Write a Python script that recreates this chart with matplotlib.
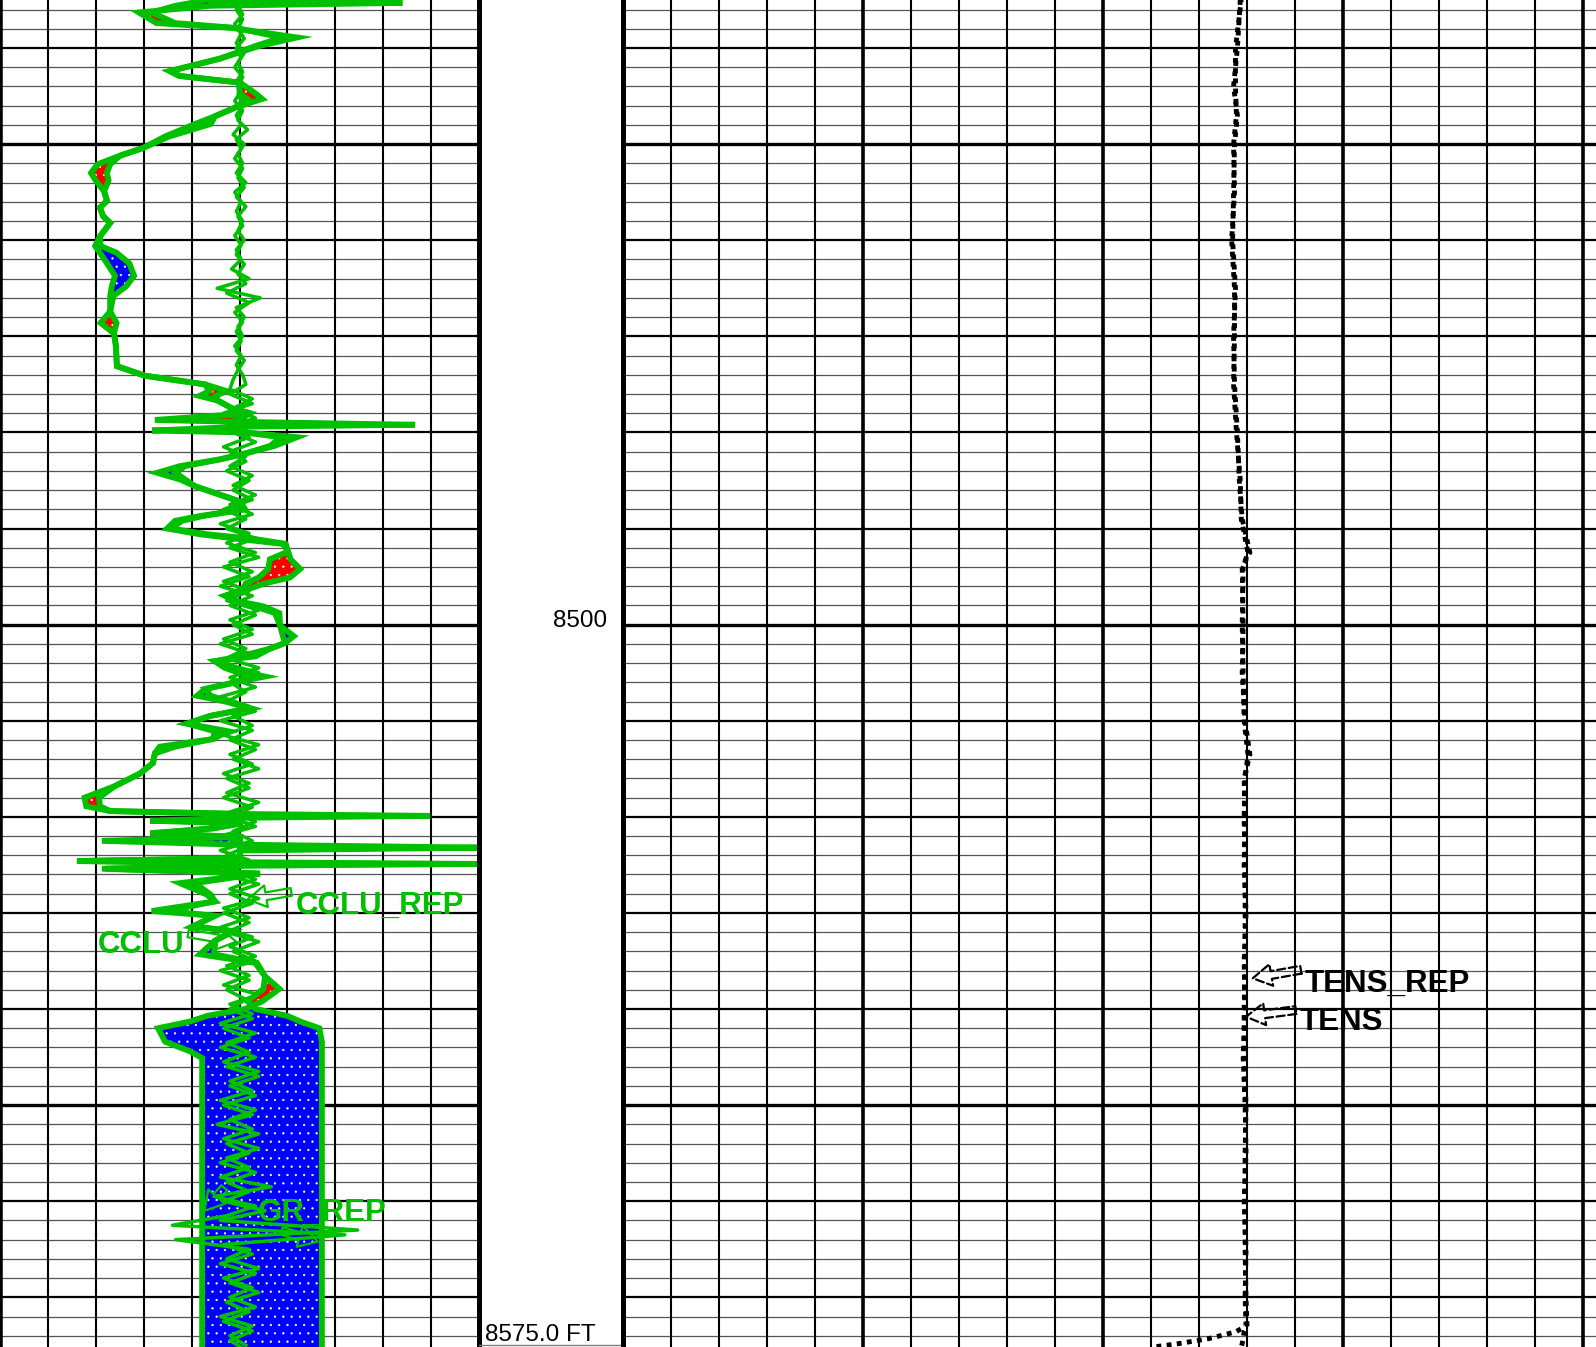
import numpy as np
import matplotlib
matplotlib.use('Agg')
import matplotlib.pyplot as plt

plt.rcParams['font.family'] = ['Liberation Sans', 'DejaVu Sans']
plt.rcParams['hatch.color'] = 'white'
plt.rcParams['hatch.linewidth'] = 0.4

GREEN = '#00c000'
TOP, BOTTOM = 8435.0, 8575.17

# ---- Gamma ray, main pass and repeat pass (API) ----
gr_depth = [
    8435.0, 8435.3, 8435.6, 8436.3, 8437.4, 8437.9, 8438.9, 8439.8, 8441.1, 8442.4,
    8442.9, 8443.6, 8444.7, 8445.3, 8446.2, 8447.1, 8447.9, 8449.2, 8450.4, 8451.2,
    8452.1, 8453.0, 8453.8, 8454.9, 8455.9, 8456.6, 8457.5, 8458.2, 8459.6, 8460.6,
    8461.3, 8462.4, 8463.7, 8464.8, 8465.8, 8467.4, 8468.6, 8469.7, 8471.0, 8473.1,
    8474.1, 8475.0, 8475.7, 8476.2, 8476.7, 8477.5, 8478.0, 8478.7, 8478.9, 8479.2,
    8479.4, 8479.8, 8480.0, 8480.5, 8481.4, 8482.2, 8482.8, 8483.5, 8484.2, 8484.9,
    8485.6, 8486.3, 8487.2, 8488.0, 8488.7, 8489.2, 8490.0, 8490.6, 8491.1, 8491.6,
    8492.4, 8493.2, 8494.2, 8495.1, 8495.7, 8496.3, 8497.0, 8497.5, 8498.1, 8498.8,
    8500.1, 8501.2, 8501.9, 8502.5, 8503.3, 8503.8, 8504.5, 8505.4, 8505.9, 8506.7,
    8507.4, 8508.0, 8508.7, 8509.5, 8510.3, 8511.1, 8511.9, 8512.7, 8513.4, 8514.4,
    8515.5, 8516.8, 8518.0, 8518.9, 8519.4, 8519.7, 8519.9, 8520.1, 8520.4, 8520.7,
    8521.2, 8521.7, 8522.1, 8522.5, 8522.9, 8523.2, 8523.5, 8524.3, 8524.6, 8524.9,
    8525.1, 8525.4, 8525.9, 8526.9, 8528.1, 8528.8, 8529.8, 8530.3, 8531.4, 8531.9,
    8532.9, 8534.3, 8535.2, 8536.6, 8537.9, 8539.2, 8540.0, 8540.7, 8541.3, 8542.0,
    8543.4, 8544.4, 8545.1, 8575.2]
gr = [
    64.2, 60.0, 55.0, 47.5, 54.8, 73.6, 88.3, 79.9, 68.9, 53.2,
    56.4, 75.2, 79.9, 82.1, 73.6, 67.3, 61.1, 51.7, 44.8, 37.6,
    34.5, 33.5, 34.0, 32.6, 33.5, 31.3, 32.3, 34.5, 31.3, 29.8,
    31.3, 33.5, 36.0, 35.0, 34.5, 34.5, 36.5, 35.7, 36.3, 36.6,
    45.4, 64.2, 71.0, 67.5, 68.3, 72.7, 78.3, 75.0, 75.2, 76.0,
    76.7, 76.0, 76.7, 88.0, 84.6, 76.7, 68.9, 56.4, 49.2, 56.4,
    61.1, 67.3, 75.2, 76.7, 62.6, 54.8, 52.3, 62.6, 75.2, 88.6,
    90.2, 91.0, 94.0, 90.8, 83.0, 77.7, 70.5, 73.6, 79.9, 86.1,
    87.7, 88.6, 89.3, 84.6, 75.2, 67.3, 70.5, 83.0, 75.2, 64.2,
    61.7, 70.5, 78.3, 65.8, 58.6, 67.3, 66.7, 54.8, 48.5, 47.9,
    43.8, 36.0, 31.0, 31.3, 34.5, 75.2, 134.7, 75.2, 47.0, 75.2,
    66.7, 47.0, 75.2, 31.9, 75.2, 75.2, 75.2, 75.2, 24.1, 150.0,
    75.2, 31.9, 81.4, 56.4, 64.8, 67.3, 52.3, 67.3, 60.4, 73.0,
    67.3, 62.6, 79.9, 83.0, 87.5, 82.1, 76.7, 65.0, 59.5, 49.5,
    51.7, 59.5, 63.3, 63.3]
gr_rep = [
    66.0, 126.0, 66.0, 43.5, 49.0, 72.5, 93.0, 81.0, 68.9, 53.2,
    56.0, 75.2, 75.0, 77.5, 73.6, 67.3, 66.0, 53.0, 44.8, 37.6,
    30.5, 28.5, 30.0, 32.6, 33.5, 31.3, 32.3, 34.5, 31.3, 31.5,
    36.5, 40.5, 42.0, 39.5, 35.5, 34.5, 31.5, 35.7, 36.3, 36.6,
    45.4, 64.2, 65.5, 62.5, 68.3, 72.7, 78.3, 48.5, 75.2, 130.0,
    76.7, 47.6, 76.7, 93.0, 86.0, 76.7, 68.9, 58.0, 55.0, 58.0,
    61.1, 67.3, 75.2, 76.7, 63.5, 57.0, 53.5, 65.0, 80.0, 89.5,
    90.2, 84.5, 84.0, 81.0, 77.0, 76.0, 70.5, 73.6, 82.5, 87.5,
    87.7, 92.0, 89.3, 84.6, 80.0, 67.3, 70.5, 78.0, 75.2, 64.2,
    66.0, 71.5, 78.3, 65.8, 58.6, 71.5, 66.7, 50.0, 48.5, 47.9,
    43.8, 36.0, 26.5, 27.0, 34.5, 75.2, 75.0, 75.2, 75.2, 75.2,
    66.7, 48.5, 75.2, 75.2, 75.2, 150.0, 75.2, 75.2, 24.1, 75.2,
    75.2, 33.0, 81.4, 61.0, 66.0, 67.3, 47.5, 67.3, 60.4, 73.0,
    67.3, 67.0, 80.5, 83.0, 82.5, 77.5, 80.0, 89.9, 94.0, 100.0,
    100.8, 100.8, 100.8, 100.8]

# ---- Casing collar locator, main and repeat (offset from track centre) ----
cclu_depth = np.arange(8435.0, 8575.5, 1.0)
cclu = [
    0.5, -1.0, 1.0, -0.5, 1.5, -1.0, 0.5, -1.5, 1.0, -0.5,
    0.0, 1.0, -1.0, 0.5, -2.0, 1.5, -0.5, 1.0, -1.0, 2.0,
    -1.5, 0.5, -1.0, 1.0, -0.5, 1.5, -1.0, 0.5, -2.5, 3.0,
    -7.0, 6.5, -1.0, 1.5, -0.5, 1.0, -1.5, 0.5, -1.0, 1.0,
    2.0, -3.0, 4.0, -5.0, 3.0, -2.0, 5.0, -3.0, 2.0, -4.0,
    3.0, -2.0, 4.0, -5.0, 2.0, -4.0, 5.0, -3.0, 6.0, -5.0,
    3.0, -6.0, 4.0, -3.0, 5.0, -2.0, 4.0, -6.0, 3.0, -5.0,
    6.0, -3.0, 2.0, -4.0, 5.0, -6.0, 4.0, -3.0, 5.0, -2.0,
    6.0, -4.0, 3.0, -5.0, 4.0, -3.0, 5.0, -6.0, 3.0, -4.0,
    2.0, -5.0, 6.0, -3.0, 4.0, -5.0, 3.0, -4.0, 6.0, -2.0,
    5.0, -6.0, 3.0, -4.0, 2.0, -3.0, 4.0, -5.0, 3.0, -6.0,
    5.0, -4.0, 6.0, -3.0, 5.0, -5.0, 4.0, -7.0, 6.0, -4.0,
    3.0, -6.0, 5.0, -4.0, 3.0, -5.0, 8.0, -6.0, 37.0, -20.0,
    3.0, -4.0, 6.0, -5.0, 4.0, -3.0, 5.0, -6.0, 4.0, -3.0, 2.0]
cclu_rep_depth = np.arange(8435.5, 8576.0, 1.0)
cclu_rep = [
    -0.5, 1.0, -1.5, 0.5, -1.0, 1.5, -0.5, 1.0, -1.0, 0.5,
    -1.5, 1.0, -0.5, 2.5, -1.0, 0.5, -1.5, 1.0, -0.5, 1.5,
    -1.0, 2.0, -0.5, 1.0, -1.5, 0.5, -1.0, 1.5, -0.5, 2.0,
    -4.0, 3.0, -1.5, 1.0, -1.0, 0.5, -1.0, 1.5, -0.5, -2.0,
    -3.0, 4.0, -2.0, 5.0, -4.0, 3.0, -5.0, 2.0, -3.0, 4.0,
    -2.0, 5.0, -3.0, 4.0, -6.0, 3.0, -4.0, 5.0, -3.0, 4.0,
    -5.0, 3.0, -4.0, 6.0, -3.0, 4.0, -5.0, 2.0, -4.0, 6.0,
    -3.0, 5.0, -6.0, 3.0, -2.0, 4.0, -5.0, 6.0, -3.0, 4.0,
    -5.0, 3.0, -4.0, 6.0, -3.0, 5.0, -2.0, 4.0, -6.0, 3.0,
    -4.0, 5.0, -3.0, 6.0, -5.0, 3.0, -6.0, 4.0, -3.0, 5.0,
    -4.0, 3.0, -5.0, 6.0, -3.0, 4.0, -6.0, 5.0, -4.0, 3.0,
    -5.0, 6.0, -3.0, 4.0, -6.0, 5.0, -3.0, 4.0, -5.0, 6.0,
    -4.0, 3.0, -6.0, 10.0, -8.0, 5.0, -4.0, -21.0, 33.0, -5.0,
    4.0, -6.0, 5.0, -3.0, 6.0, -4.0, 3.0, -5.0, 4.0, -3.0, 2.0]
CCL_CENTER = 75.0

# ---- Cable tension, main and repeat (lbf) ----
tens_depth = [8435.0, 8440, 8444, 8447, 8450, 8455, 8460, 8465, 8470, 8475,
              8480, 8485, 8489, 8492.5, 8494, 8500, 8505, 8510, 8513.5, 8516,
              8520, 8525, 8530, 8535, 8540, 8545, 8550, 8555, 8560, 8565,
              8570, 8573.0, 8573.6, 8574.3, 8574.8, 8575.2]
tens = [6430, 6400, 6360, 6400, 6370, 6360, 6350, 6380, 6360, 6370,
        6400, 6420, 6450, 6530, 6450, 6460, 6450, 6480, 6530, 6470,
        6480, 6470, 6490, 6470, 6480, 6460, 6480, 6490, 6470, 6490,
        6480, 6490, 6380, 6100, 5800, 5500]
tens_rep = [6440, 6380, 6380, 6390, 6360, 6370, 6340, 6370, 6370, 6360,
            6390, 6430, 6440, 6510, 6460, 6450, 6460, 6470, 6510, 6480,
            6470, 6480, 6480, 6480, 6470, 6470, 6490, 6480, 6480, 6480,
            6490, 6500, 6470, 6460, 6450, 6440]


# Horizontal depth grid: 2 ft thin, 10 ft medium, 50 ft heavy
def draw_depth_grid(ax):
    for d in range(8436, 8576, 2):
        if d % 50 == 0:
            ax.axhline(d, color='black', lw=2.4, zorder=1)
        elif d % 10 == 0:
            ax.axhline(d, color='black', lw=1.6, zorder=1)
        else:
            ax.axhline(d, color='#555555', lw=0.9, zorder=1)


def setup_track(ax, xlim):
    ax.set_xlim(*xlim)
    ax.set_ylim(BOTTOM, TOP)
    ax.axis('off')


# Curve label with a hollow outline arrow pointing at the curve
def hollow_leader(ax, text, xy, xytext, color, size, relpos, ha='left', ls='-'):
    ax.annotate(text, xy=xy, xytext=xytext, color=color, fontsize=size,
                fontweight='bold', ha=ha, va='center', zorder=6,
                arrowprops=dict(arrowstyle='simple,head_length=0.6,head_width=0.7,tail_width=0.25',
                                fc='none', ec=color, lw=1.6, ls=ls,
                                shrinkA=1, shrinkB=0, relpos=relpos))


fig = plt.figure(figsize=(15.96, 13.47), dpi=100)
ax_gr = fig.add_axes([0, 0, 479 / 1596, 1])
ax_d = fig.add_axes([479 / 1596, 0, 144 / 1596, 1])
ax_t = fig.add_axes([623 / 1596, 0, 973 / 1596, 1])

# ---- left track: GR + CCL ----
setup_track(ax_gr, (0, 150))
draw_depth_grid(ax_gr)
for v in range(15, 150, 15):
    ax_gr.axvline(v, color='black', lw=1.5, zorder=1)
ax_gr.axvline(0, color='black', lw=4, zorder=1, clip_on=False)
ax_gr.axvline(150, color='black', lw=3.6, zorder=7, clip_on=False)

gd = np.array(gr_depth)
g = np.array(gr)
r = np.array(gr_rep)
ax_gr.fill_betweenx(gd, g, r, where=r >= g, interpolate=True, facecolor='#0000ff',
                    edgecolor='white', hatch='..', linewidth=0, zorder=2)
ax_gr.fill_betweenx(gd, g, r, where=r < g, interpolate=True, facecolor='#ff0000',
                    edgecolor='white', hatch='..', linewidth=0, zorder=2)
ax_gr.plot(g, gd, color=GREEN, lw=4.2, zorder=3, solid_joinstyle='miter')
ax_gr.plot(r, gd, color=GREEN, lw=4.2, zorder=3, solid_joinstyle='miter')
ax_gr.plot(CCL_CENTER + np.array(cclu), cclu_depth, color=GREEN, lw=2.5, zorder=4)
ax_gr.plot(CCL_CENTER + np.array(cclu_rep), cclu_rep_depth, color=GREEN, lw=2.5, zorder=4)

hollow_leader(ax_gr, 'CCLU_REP', (77.5, 8528.6), (92.5, 8529.3), GREEN, 22.5, (0, 1.0))
hollow_leader(ax_gr, 'CCLU', (74.0, 8533.0), (30.5, 8533.3), GREEN, 22.5, (1, 0.9))
hollow_leader(ax_gr, 'GR_REP', (99.5, 8564.2), (80.8, 8561.2), GREEN, 22.5, (0.1, 0))
hollow_leader(ax_gr, '', (64.0, 8561.0), (70.5, 8558.5), GREEN, 22.5, (0.5, 0.5))

# ---- depth track ----
setup_track(ax_d, (0, 1))
ax_d.text(0.889, 8500.25, '8500', ha='right', va='baseline', fontsize=17.5)
ax_d.text(0.04, 8574.55, '8575.0 FT', ha='left', va='baseline', fontsize=17.5)
ax_d.axhline(8575.0, color='#808080', lw=1.0)

# ---- right track: tension ----
setup_track(ax_t, (0, 973 / 0.096))
draw_depth_grid(ax_t)
for v in range(500, 10136, 500):
    ax_t.axvline(v, color='black', lw=2.6 if v % 2500 == 0 else 1.5, zorder=1)
ax_t.axvline(0, color='black', lw=3.6, zorder=7, clip_on=False)

ax_t.plot(tens, tens_depth, color='black', lw=3.5, ls=(0, (1.0, 1.1)), zorder=3)
ax_t.plot(tens_rep, tens_depth, color='black', lw=3.5, ls=(0.6, (1.0, 1.1)), zorder=3)
hollow_leader(ax_t, 'TENS_REP', (6560, 8536.8), (7104, 8537.4), 'black', 22.5, (0, 1.0), ls='--')
hollow_leader(ax_t, 'TENS', (6490, 8540.8), (7052, 8541.3), 'black', 22.5, (0, 0.9), ls='--')

fig.savefig('out.png', dpi=100, facecolor='white')
